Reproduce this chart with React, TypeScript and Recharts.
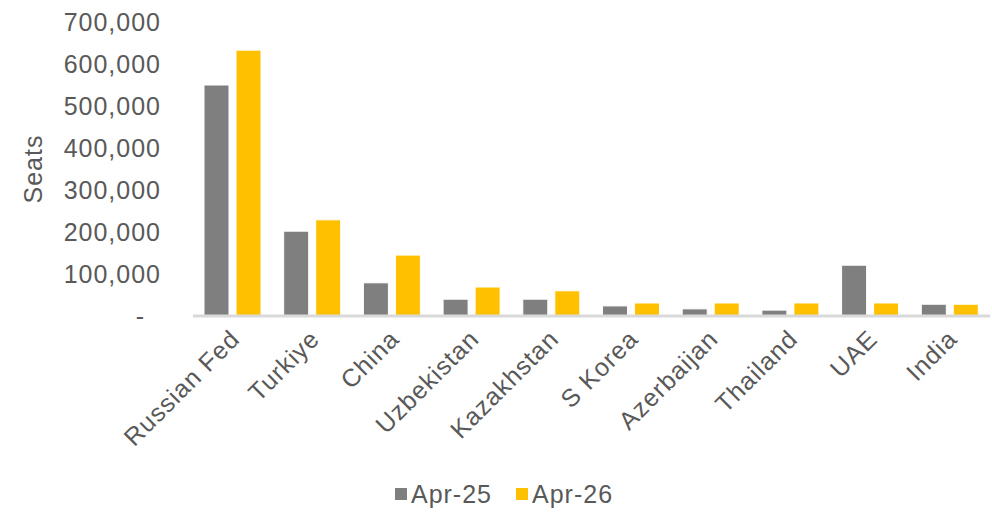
import React from 'react';
import { BarChart, Bar, XAxis, YAxis, Legend } from 'recharts';

const categories = ['Russian Fed', 'Turkiye', 'China', 'Uzbekistan', 'Kazakhstan', 'S Korea', 'Azerbaijan', 'Thailand', 'UAE', 'India'];
const apr25 = [550000, 202000, 79000, 40000, 40000, 24000, 17000, 14000, 121000, 28000];
const apr26 = [633000, 229000, 145000, 69000, 60000, 31000, 31000, 31000, 31000, 28000];
const yTicks = [0, 100000, 200000, 300000, 400000, 500000, 600000, 700000];

const data = categories.map((c, i) => ({ name: c, a25: apr25[i], a26: apr26[i] }));

const FONT = '"Liberation Sans", Arial, sans-serif';
const TXT = '#595959';

const fmt = (v: number) => (v === 0 ? '-\u00A0\u00A0' : v.toLocaleString('en-US'));

const LegendContent = (props: any) => {
  const payload = props.payload || [];
  return (
    <div style={{ display: 'flex', justifyContent: 'center', alignItems: 'center', paddingLeft: 18, fontFamily: FONT }}>
      {payload.map((p: any, i: number) => (
        <div key={i} style={{ display: 'flex', alignItems: 'center', marginRight: i < payload.length - 1 ? 24 : 0 }}>
          <div style={{ width: 12, height: 12, background: p.color, marginRight: 4 }} />
          <span style={{ color: TXT, fontSize: 25, letterSpacing: 1, lineHeight: '28px' }}>{p.value}</span>
        </div>
      ))}
    </div>
  );
};

export default function App() {
  return (
    <div style={{ position: 'absolute', left: 0, top: 0, background: '#fff' }}>
      <BarChart
        width={992}
        height={514}
        data={data}
        margin={{ top: 22, right: 2, bottom: 0, left: 0 }}
        barSize={25}
        barGap={7}
      >
        <XAxis
          dataKey="name"
          interval={0}
          height={164}
          tickLine={false}
          axisLine={{ stroke: '#d9d9d9', strokeWidth: 3 }}
          tick={{ fill: TXT, fontSize: 25, fontFamily: FONT, angle: -45, textAnchor: 'end', letterSpacing: 1, dx: -4 }}
          tickMargin={6}
        />
        <YAxis
          width={193}
          domain={[0, 700000]}
          ticks={yTicks}
          tickFormatter={fmt}
          axisLine={false}
          tickLine={false}
          tickMargin={26}
          tick={{ fill: TXT, fontSize: 25, fontFamily: FONT, letterSpacing: 1 }}
          label={{ value: 'Seats', angle: -90, position: 'center', dx: -63, fill: TXT, fontSize: 25, fontFamily: FONT, letterSpacing: 1 }}
        />
        <Legend verticalAlign="bottom" height={34} content={<LegendContent />} />
        <Bar dataKey="a25" name="Apr-25" fill="#7f7f7f" stroke="#ffffff" strokeWidth={1} isAnimationActive={false} />
        <Bar dataKey="a26" name="Apr-26" fill="#ffc000" stroke="#ffffff" strokeWidth={1} isAnimationActive={false} />
      </BarChart>
    </div>
  );
}
